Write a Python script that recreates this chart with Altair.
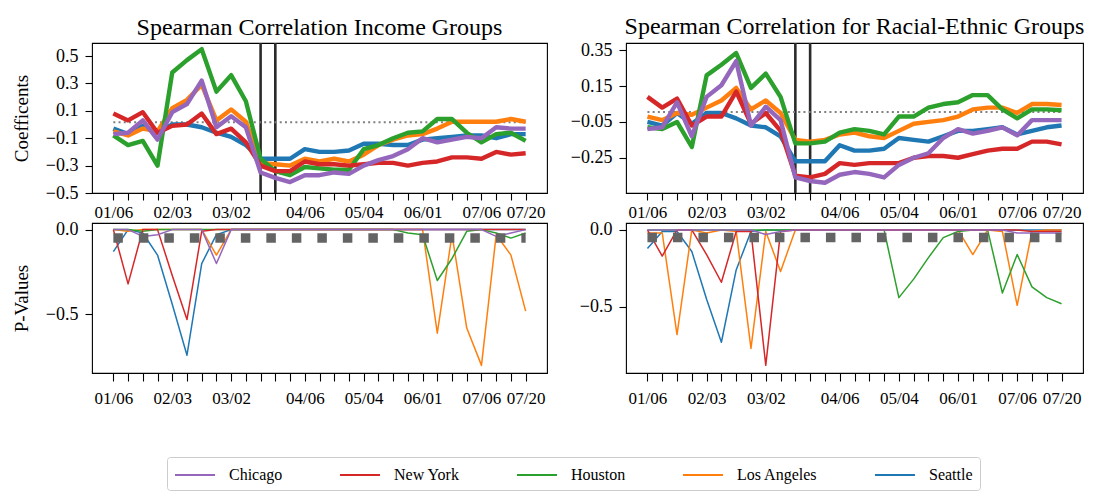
import altair as alt
import pandas as pd

# ---------------- data ----------------
WEEKS = ["01/06", "01/13", "01/20", "01/27", "02/03", "02/10", "02/17", "02/24",
         "03/02", "03/09", "03/16", "03/23", "03/30", "04/06", "04/13", "04/20",
         "04/27", "05/04", "05/11", "05/18", "05/25", "06/01", "06/08", "06/15",
         "06/22", "06/29", "07/06", "07/13", "07/20"]
TICK_POS = [0, 4, 8, 13, 17, 21, 25, 28]
TICK_TEXT = ["01/06", "02/03", "03/02", "04/06", "05/04", "06/01", "07/06", "07/20"]
CITIES = ["Chicago", "New York", "Houston", "Los Angeles", "Seattle"]
COLORS = ["#9467bd", "#d62728", "#2ca02c", "#ff7f0e", "#1f77b4"]
DRAW_ORDER = ["Seattle", "Los Angeles", "Houston", "New York", "Chicago"]
LOCKDOWN = ["03/16", "03/23"]
REF_INCOME = 0.017
REF_RACIAL = 0.005
P_THRESHOLD = -0.05

# Spearman coefficients, income groups
INC_CHICAGO = [-0.07, -0.06, 0.03, -0.11, 0.09, 0.15, 0.32, -0.02, 0.06, -0.02, -0.35, -0.39, -0.42, -0.37, -0.37,
               -0.35, -0.36, -0.30, -0.26, -0.23, -0.18, -0.10, -0.13, -0.11, -0.09, -0.10, -0.02, -0.03, -0.03]
INC_NEWYORK = [0.08, 0.03, 0.09, -0.06, -0.01, 0.0, 0.08, -0.07, -0.03, -0.13, -0.30, -0.34, -0.34, -0.27, -0.29,
               -0.29, -0.30, -0.29, -0.28, -0.28, -0.30, -0.28, -0.27, -0.24, -0.24, -0.25, -0.20, -0.22, -0.21]
INC_HOUSTON = [-0.08, -0.15, -0.12, -0.30, 0.38, 0.47, 0.55, 0.24, 0.36, 0.17, -0.25, -0.34, -0.37, -0.31, -0.32,
               -0.33, -0.33, -0.18, -0.15, -0.10, -0.06, -0.05, 0.04, 0.04, -0.06, -0.13, -0.07, -0.06, -0.12]
INC_LA = [-0.05, -0.08, -0.03, -0.05, 0.12, 0.18, 0.29, 0.03, 0.11, 0.02, -0.28, -0.29, -0.30, -0.25, -0.27,
          -0.25, -0.27, -0.22, -0.15, -0.11, -0.08, -0.07, -0.03, 0.02, 0.02, 0.02, 0.02, 0.04, 0.02]
INC_SEATTLE = [-0.03, -0.07, -0.01, -0.06, 0.0, 0.0, -0.02, -0.06, -0.09, -0.15, -0.25, -0.25, -0.25, -0.18, -0.20,
               -0.20, -0.19, -0.14, -0.14, -0.15, -0.15, -0.11, -0.10, -0.09, -0.08, -0.08, -0.10, -0.07, -0.07]

# Spearman coefficients, racial-ethnic groups
RAC_CHICAGO = [-0.09, -0.08, 0.06, -0.13, 0.09, 0.155, 0.29, -0.07, 0.035, -0.04, -0.36, -0.38, -0.39, -0.345, -0.33,
               -0.34, -0.36, -0.29, -0.25, -0.225, -0.14, -0.09, -0.115, -0.10, -0.08, -0.125, -0.04, -0.04, -0.04]
RAC_NEWYORK = [0.09, 0.03, 0.08, -0.07, -0.02, -0.02, 0.12, -0.06, 0.0, -0.10, -0.35, -0.36, -0.34, -0.28, -0.29,
               -0.28, -0.28, -0.28, -0.25, -0.24, -0.24, -0.25, -0.23, -0.21, -0.20, -0.20, -0.16, -0.16, -0.175]
RAC_HOUSTON = [-0.08, -0.09, -0.05, -0.19, 0.21, 0.27, 0.335, 0.14, 0.22, 0.09, -0.17, -0.17, -0.16, -0.11, -0.09,
               -0.10, -0.12, -0.02, -0.02, 0.03, 0.05, 0.06, 0.10, 0.10, 0.02, -0.03, 0.02, 0.02, 0.015]
RAC_LA = [-0.02, -0.04, 0.0, -0.01, 0.03, 0.07, 0.14, 0.02, 0.07, 0.0, -0.15, -0.16, -0.15, -0.12, -0.11,
          -0.13, -0.14, -0.10, -0.06, -0.05, -0.04, -0.02, 0.02, 0.03, 0.03, 0.0, 0.05, 0.05, 0.045]
RAC_SEATTLE = [-0.05, -0.07, 0.0, -0.06, 0.0, 0.0, -0.03, -0.07, -0.08, -0.13, -0.27, -0.27, -0.27, -0.18, -0.21,
               -0.21, -0.20, -0.14, -0.15, -0.16, -0.13, -0.10, -0.10, -0.09, -0.08, -0.12, -0.10, -0.08, -0.07]

# (negated) p-values, income groups
PI_CHICAGO = [0.0, 0.0, -0.04, -0.03, 0.0, 0.0, 0.0, -0.20, 0.0, 0.0, 0.0, 0.0, 0.0, 0.0, 0.0,
              0.0, 0.0, 0.0, 0.0, 0.0, 0.0, 0.0, 0.0, 0.0, 0.0, 0.0, -0.04, -0.02, 0.0]
PI_NEWYORK = [0.0, -0.32, 0.0, 0.0, -0.27, -0.53, -0.01, 0.0, 0.0, 0.0, 0.0, 0.0, 0.0, 0.0, 0.0,
              0.0, 0.0, 0.0, 0.0, 0.0, 0.0, 0.0, 0.0, 0.0, 0.0, 0.0, 0.0, 0.0, 0.0]
PI_HOUSTON = [0.0, 0.0, -0.01, 0.0, 0.0, 0.0, 0.0, 0.0, 0.0, 0.0, 0.0, 0.0, 0.0, 0.0, 0.0,
              0.0, 0.0, 0.0, 0.0, 0.0, -0.02, -0.03, -0.30, -0.17, -0.01, 0.0, -0.02, -0.05, -0.02]
PI_LA = [0.0, -0.01, 0.0, 0.0, 0.0, 0.0, 0.0, -0.15, 0.0, 0.0, 0.0, 0.0, 0.0, 0.0, 0.0,
         0.0, 0.0, 0.0, 0.0, 0.0, 0.0, 0.0, -0.61, -0.03, -0.58, -0.80, -0.03, -0.15, -0.48]
PI_SEATTLE = [-0.13, 0.0, -0.02, -0.15, -0.44, -0.74, -0.20, -0.03, 0.0, 0.0, 0.0, 0.0, 0.0, 0.0, 0.0,
              0.0, 0.0, 0.0, 0.0, 0.0, 0.0, 0.0, 0.0, 0.0, 0.0, 0.0, 0.0, 0.0, 0.0]

# (negated) p-values, racial-ethnic groups
PR_CHICAGO = [0.0, 0.0, 0.0, 0.0, 0.0, 0.0, 0.0, 0.0, -0.03, -0.01, 0.0, 0.0, 0.0, 0.0, 0.0,
              0.0, 0.0, 0.0, 0.0, 0.0, 0.0, 0.0, 0.0, 0.0, 0.0, -0.02, -0.02, -0.02, -0.02]
PR_NEWYORK = [0.0, -0.17, 0.0, 0.0, -0.16, -0.34, -0.01, -0.01, -0.88, -0.01, 0.0, 0.0, 0.0, 0.0, 0.0,
              0.0, 0.0, 0.0, 0.0, 0.0, 0.0, 0.0, 0.0, 0.0, 0.0, 0.0, -0.01, -0.01, -0.01]
PR_HOUSTON = [0.0, 0.0, 0.0, 0.0, 0.0, 0.0, 0.0, 0.0, 0.0, 0.0, 0.0, 0.0, 0.0, 0.0, 0.0,
              0.0, 0.0, -0.44, -0.32, -0.18, -0.05, -0.01, 0.0, 0.0, -0.41, -0.16, -0.37, -0.44, -0.48]
PR_LA = [-0.02, -0.02, -0.68, 0.0, -0.02, 0.0, -0.01, -0.77, -0.01, -0.27, 0.0, 0.0, 0.0, 0.0, 0.0,
         0.0, 0.0, 0.0, 0.0, 0.0, 0.0, 0.0, -0.16, 0.0, -0.01, -0.49, -0.01, 0.0, 0.0]
PR_SEATTLE = [-0.12, -0.01, -0.01, -0.14, -0.45, -0.73, -0.26, -0.01, 0.0, 0.0, 0.0, 0.0, 0.0, 0.0, 0.0,
              0.0, 0.0, 0.0, 0.0, 0.0, 0.0, 0.0, 0.0, 0.0, 0.0, 0.0, 0.0, 0.0, 0.0]


def long_frame(series):
    rows = []
    for city, vals in series.items():
        for i, v in enumerate(vals):
            rows.append({"city": city, "i": i, "week": WEEKS[i], "v": v})
    return pd.DataFrame(rows)


df_inc = long_frame({"Chicago": INC_CHICAGO, "New York": INC_NEWYORK, "Houston": INC_HOUSTON,
                     "Los Angeles": INC_LA, "Seattle": INC_SEATTLE})
df_rac = long_frame({"Chicago": RAC_CHICAGO, "New York": RAC_NEWYORK, "Houston": RAC_HOUSTON,
                     "Los Angeles": RAC_LA, "Seattle": RAC_SEATTLE})
df_pi = long_frame({"Chicago": PI_CHICAGO, "New York": PI_NEWYORK, "Houston": PI_HOUSTON,
                    "Los Angeles": PI_LA, "Seattle": PI_SEATTLE})
df_pr = long_frame({"Chicago": PR_CHICAGO, "New York": PR_NEWYORK, "Houston": PR_HOUSTON,
                    "Los Angeles": PR_LA, "Seattle": PR_SEATTLE})

FONT = "Liberation Serif"
X_DOMAIN = [-1.45, len(WEEKS) - 1 + 1.45]
label_list = [""] * len(WEEKS)
for p, t in zip(TICK_POS, TICK_TEXT):
    label_list[p] = t
LABEL_EXPR = "[" + ",".join("'%s'" % s for s in label_list) + "][datum.value]"

color_scale = alt.Scale(domain=CITIES, range=COLORS)
legend = alt.Legend(
    orient="none", legendX=75, legendY=414, direction="horizontal", columns=5,
    title=None, symbolType="M-1,0H3", symbolSize=400, symbolStrokeWidth=2,
    labelFont=FONT, labelFontSize=16, labelColor="black", labelOffset=33,
    columnPadding=53, padding=7, strokeColor="#cccccc", fillColor="white",
    cornerRadius=3,
)


def panel(df, y_domain, y_values, y_format, y_title, width, title, thick, ref_y,
          ref_style, vlines, tick):
    xs = alt.Scale(domain=X_DOMAIN, nice=False, zero=False)
    ys = alt.Scale(domain=y_domain, nice=False, zero=False)
    xaxis = alt.Axis(values=list(range(len(WEEKS))), labelExpr=LABEL_EXPR, tickSize=tick[0],
                     labelPadding=tick[1], labelOverlap=False, labelFlush=False, labelBound=False,
                     labelFontSize=17, title="", grid=False, domain=False)
    yaxis = alt.Axis(values=y_values, format=y_format, tickSize=7, labelPadding=7,
                     labelFontSize=18, title=y_title or "", grid=False, domain=False,
                     titlePadding=14)
    X = alt.X("i:Q", scale=xs, axis=xaxis)
    Y = alt.Y("v:Q", scale=ys, axis=yaxis)
    base = alt.Chart(df).encode(
        x=X, y=Y,
        color=alt.Color("city:N", scale=color_scale, legend=legend),
    )
    layers = []
    ref_df = pd.DataFrame({"i": [0], "i2": [len(WEEKS) - 1], "v": [ref_y]})
    ref = alt.Chart(ref_df).mark_rule(**ref_style).encode(x=X, x2="i2:Q", y=Y)
    if vlines:
        vdf = pd.DataFrame({"i": [WEEKS.index(w) for w in LOCKDOWN]})
        layers.append(alt.Chart(vdf).mark_rule(color="#2b2b2b", strokeWidth=2.6).encode(x=X))
    if thick:
        layers.append(ref)
    for c in DRAW_ORDER:
        layers.append(base.transform_filter(alt.datum.city == c).mark_line(
            strokeWidth=thick and 4.4 or 1.5, strokeJoin="round"))
    if not thick:
        layers.append(ref)
    ch = alt.layer(*layers).properties(width=width, height=150)
    if title:
        ch = ch.properties(title=alt.Title(title, font=FONT, fontSize=24, fontWeight="normal",
                                           color="black", anchor="middle", offset=2))
    return ch


fine_dots = dict(color="gray", strokeWidth=2, strokeDash=[2, 3.2])
big_dots = dict(color="#646464", strokeWidth=9.5, strokeDash=[9.5, 16])

tl = panel(df_inc, [-0.5, 0.595], [-0.5, -0.3, -0.1, 0.1, 0.3, 0.5], ".1f", "Coefficents", 455,
           "Spearman Correlation Income Groups", True, REF_INCOME, fine_dots, True, (7, 4))
tr = panel(df_rac, [-0.447, 0.391], [-0.45, -0.25, -0.05, 0.15, 0.35], ".2f", None, 457,
           "Spearman Correlation for Racial-Ethnic Groups", True, REF_RACIAL, fine_dots, True, (7, 4))
bl = panel(df_pi, [-0.845, 0.039], [-0.5, 0.0], ".1f", "P-Values", 455,
           None, False, P_THRESHOLD, big_dots, False, (8, 9))
br = panel(df_pr, [-0.93, 0.045], [-0.5, 0.0], ".1f", None, 457,
           None, False, P_THRESHOLD, big_dots, False, (8, 9))

chart = alt.concat(tl, tr, bl, br, columns=2, spacing={"row": 30, "column": 79},
                   bounds="flush").properties(
    padding={"left": 3, "top": 6, "right": 3, "bottom": 3},
    background="white",
).configure_view(
    fill="white", stroke="black", strokeWidth=1.1
).configure_axis(
    labelFont=FONT, labelFontSize=16, labelColor="black", tickColor="black", tickWidth=1.1,
    titleFont=FONT, titleFontSize=19, titleFontWeight="normal", titleColor="black",
)

chart.save("out.html", embed_options={"renderer": "svg", "actions": False})
